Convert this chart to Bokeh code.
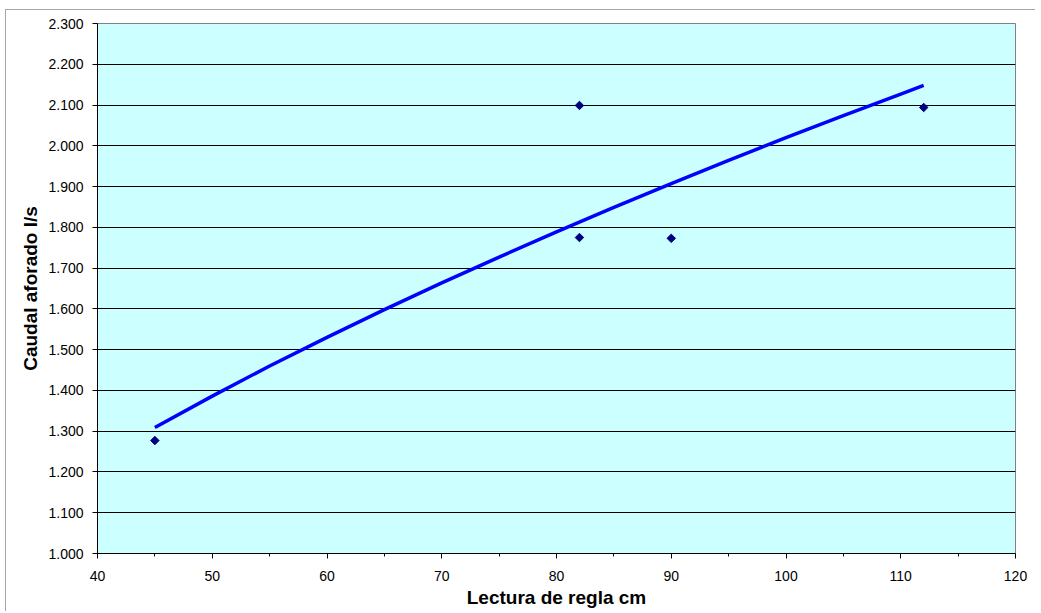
import math
from bokeh.plotting import figure
from bokeh.embed import file_html
from bokeh.resources import INLINE
from bokeh.models import FixedTicker, NumeralTickFormatter, Range1d

# Measured points (Lectura de regla cm, Caudal aforado l/s)
lectura = [45, 82, 82, 90, 112]
caudal = [1.277, 2.099, 1.775, 1.773, 2.094]

# Trendline
trend_x = [45, 50, 55, 60, 65, 70, 75, 80, 85, 90, 95, 100, 105, 110, 112]
trend_y = [1.309, 1.386, 1.460, 1.530, 1.598, 1.664, 1.727, 1.789, 1.849,
           1.907, 1.964, 2.020, 2.074, 2.127, 2.148]

x_ticks = [40, 50, 60, 70, 80, 90, 100, 110, 120]
x_minor = [45, 55, 65, 75, 85, 95, 105, 115]
y_ticks = [1.0, 1.1, 1.2, 1.3, 1.4, 1.5, 1.6, 1.7, 1.8, 1.9, 2.0, 2.1, 2.2, 2.3]

W, H = 1030, 602
p = figure(width=W, height=H, output_backend="svg", toolbar_location=None,
           x_range=Range1d(40, 120), y_range=Range1d(1.0, 2.3),
           min_border_left=91, min_border_right=21, min_border_top=13,
           min_border_bottom=59)
p.styles = {"border-top": "1px solid #a6a6a6", "border-left": "1px solid #a6a6a6",
            "margin-left": "5px", "margin-top": "9px"}

p.background_fill_color = "#CCFFFF"
p.border_fill_color = "white"
p.outline_line_color = "#808080"
p.outline_line_width = 1

p.xgrid.grid_line_color = None
p.ygrid.grid_line_color = "black"
p.ygrid.grid_line_width = 1
p.ygrid.ticker = FixedTicker(ticks=y_ticks)

p.xaxis.ticker = FixedTicker(ticks=x_ticks, minor_ticks=x_minor)
p.yaxis.ticker = FixedTicker(ticks=y_ticks)
p.yaxis.formatter = NumeralTickFormatter(format="0.000")

for ax in (p.xaxis[0], p.yaxis[0]):
    ax.axis_line_color = "black"
    ax.axis_line_width = 1
    ax.major_tick_line_color = "black"
    ax.major_tick_in = 0
    ax.major_tick_out = 5
    ax.minor_tick_line_color = "black"
    ax.minor_tick_in = 0
    ax.minor_tick_out = 3
    ax.major_label_text_font = "Liberation Sans"
    ax.major_label_text_font_size = "14px"
    ax.major_label_text_color = "black"
    ax.axis_label_text_font = "Liberation Sans"
    ax.axis_label_text_font_size = "19px"
    ax.axis_label_text_font_style = "bold"
    ax.axis_label_text_color = "black"

p.yaxis[0].minor_tick_line_color = None
p.xaxis.axis_label = "Lectura de regla cm"
p.yaxis.axis_label = "Caudal aforado l/s"
p.xaxis.major_label_standoff = 12
p.yaxis.major_label_standoff = 9
p.xaxis.axis_label_standoff = 3
p.yaxis.axis_label_standoff = 4

p.line(trend_x, trend_y, line_color="#0000FF", line_width=3.5)
p.scatter(lectura, caudal, marker="square", angle=math.pi / 4, size=6,
          fill_color="#000080", line_color="#000080")

open("out.html", "w").write(file_html(p, INLINE))
